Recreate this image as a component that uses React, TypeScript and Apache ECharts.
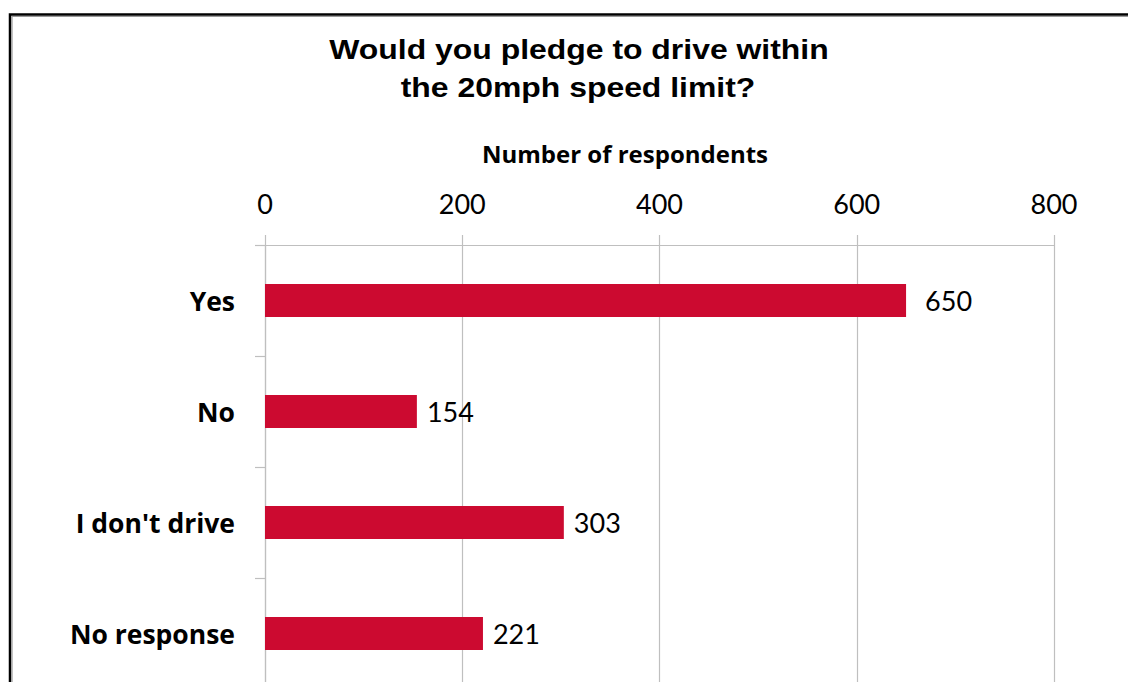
import React, { useEffect, useRef } from "react";
import * as echarts from "echarts";

const categories = ["Yes", "No", "I don't drive", "No response"];
const values = [650, 154, 303, 221];
const tickMax = 800;
const tickInterval = 200;
const titleLines = ["Would you pledge to drive within", "the 20mph speed limit?"];
const axisTitle = "Number of respondents";

export default function App() {
  const ref = useRef<HTMLDivElement>(null);
  useEffect(() => {
    if (!ref.current) return;
    const chart = echarts.init(ref.current, null, { renderer: "svg" });
    const titleStyle = {
      fontFamily: "Liberation Sans, Arial, sans-serif",
      fontWeight: "bold",
      fontSize: 28,
      fill: "#000",
      align: "center",
      verticalAlign: "middle",
    };
    chart.setOption({
      animation: false,
      backgroundColor: "#ffffff",
      graphic: [
        {
          type: "rect",
          shape: { x: 10, y: 14.5, width: 1300, height: 900 },
          style: { fill: "none", stroke: "#000", lineWidth: 2.5 },
          silent: true,
        },
        {
          type: "rect",
          shape: { x: 12, y: 16.5, width: 1300, height: 900 },
          style: { fill: "none", stroke: "#999", lineWidth: 1.2 },
          silent: true,
        },
        {
          type: "text",
          x: 579,
          y: 49,
          scaleX: 1.14,
          style: { ...titleStyle, text: titleLines[0] },
        },
        {
          type: "text",
          x: 578,
          y: 87,
          scaleX: 1.14,
          style: { ...titleStyle, text: titleLines[1] },
        },
        {
          type: "text",
          x: 625,
          y: 153,
          style: {
            text: axisTitle,
            fontFamily: "Open Sans, Lato, sans-serif",
            fontWeight: "bold",
            fontSize: 24,
            fill: "#000",
            align: "center",
            verticalAlign: "middle",
          },
        },
      ],
      grid: { left: 265, top: 245, right: 74, height: 444 },
      xAxis: {
        type: "value",
        position: "top",
        min: 0,
        max: tickMax,
        interval: tickInterval,
        axisLine: { show: true, lineStyle: { color: "#BFBFBF", width: 1.2 } },
        axisTick: { show: true, length: 10, lineStyle: { color: "#BFBFBF", width: 1.2 } },
        splitLine: { show: true, lineStyle: { color: "#BFBFBF", width: 1.2 } },
        axisLabel: {
          margin: 28,
          fontFamily: "Lato, Open Sans, sans-serif",
          fontSize: 27,
          color: "#000",
        },
      },
      yAxis: {
        type: "category",
        inverse: true,
        data: categories,
        axisLine: { show: true, lineStyle: { color: "#BFBFBF", width: 1.2 } },
        axisTick: { show: true, length: 10, lineStyle: { color: "#BFBFBF", width: 1.2 } },
        axisLabel: {
          margin: 30,
          fontFamily: "Open Sans, Lato, sans-serif",
          fontWeight: "bold",
          fontSize: 26.5,
          color: "#000",
        },
      },
      series: [
        {
          type: "bar",
          data: values.map((v, i) =>
            i === 0 ? { value: v, label: { distance: 19 } } : v
          ),
          barWidth: 33,
          itemStyle: { color: "#CC0A30" },
          label: {
            show: true,
            position: "right",
            distance: 10,
            fontFamily: "Lato, Open Sans, sans-serif",
            fontSize: 27,
            color: "#000",
          },
        },
      ],
    });
    return () => chart.dispose();
  }, []);
  return (
    <div
      style={{
        position: "fixed",
        left: 0,
        top: 0,
        width: 1128,
        height: 682,
        overflow: "hidden",
        background: "#fff",
      }}
    >
      <div ref={ref} style={{ width: 1128, height: 800 }} />
    </div>
  );
}
